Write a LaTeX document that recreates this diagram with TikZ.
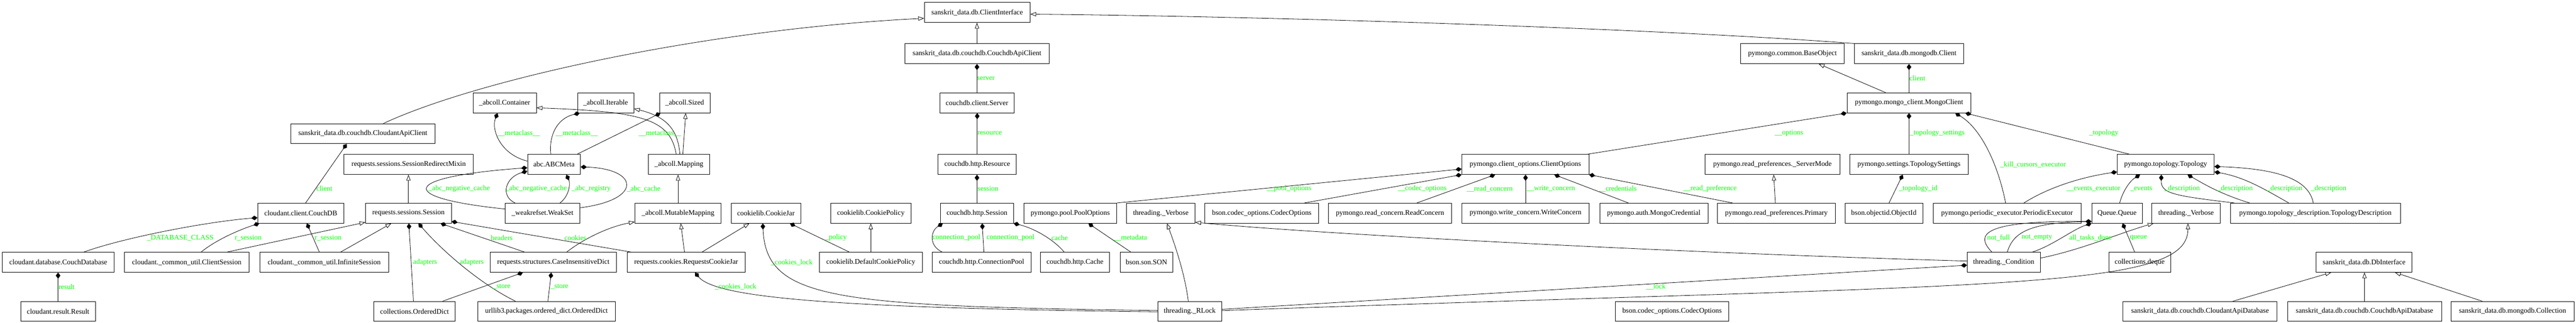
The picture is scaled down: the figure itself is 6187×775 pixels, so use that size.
\documentclass[tikz,border=0pt]{standalone}
\usepackage{fontspec}
\setmainfont{Liberation Serif}
\usetikzlibrary{arrows.meta,shapes}
\tikzset{
  cls/.style={
      draw,
      rectangle,
      line width=1pt,
      minimum width=#1,
      minimum height=48pt,
      inner xsep=4pt,
      inner ysep=0pt,
      font=\fontsize{17.2}{20}\selectfont
  },
  lbl/.style={
      text=green,
      inner sep=0pt,
      font=\fontsize{17.2}{20}\selectfont
  },
  isa/.style={line width=1pt, -{Triangle[open, length=14pt, width=10pt]}},
  has/.style={line width=1pt, -{Diamond[length=15pt, width=11pt]}}
}
\begin{document}
\begin{tikzpicture}[x=1pt, y=-1pt]
    \useasboundingbox (0,0) rectangle (6187,775);
    \node[cls=254pt] (ci) at (2347,30) {sanskrit\_data.db.ClientInterface};
    \node[cls=347pt] (cac2) at (2346.5,129) {sanskrit\_data.db.couchdb.CouchdbApiClient};
    \node[cls=248pt] (bobj) at (4305,129) {pymongo.common.BaseObject};
    \node[cls=262pt] (mcli) at (4585,129) {sanskrit\_data.db.mongodb.Client};
    \node[cls=152pt] (cont) at (1212,247) {\_abcoll.Container};
    \node[cls=135pt] (iter) at (1454.5,247) {\_abcoll.Iterable};
    \node[cls=121pt] (sized) at (1644.5,247) {\_abcoll.Sized};
    \node[cls=179pt] (srv) at (2346.5,247) {couchdb.client.Server};
    \node[cls=298pt] (mongo) at (4585,247) {pymongo.mongo\_client.MongoClient};
    \node[cls=347pt] (cac) at (871.5,321) {sanskrit\_data.db.couchdb.CloudantApiClient};
    \node[cls=311pt] (srm) at (981.5,395) {requests.sessions.SessionRedirectMixin};
    \node[cls=127pt] (abcm) at (1330.5,395) {abc.ABCMeta};
    \node[cls=147pt] (mapg) at (1630.5,395) {\_abcoll.Mapping};
    \node[cls=188pt] (res) at (2347,395) {couchdb.http.Resource};
    \node[cls=305pt] (copt) at (3663.5,395) {pymongo.client\_options.ClientOptions};
    \node[cls=324pt] (smode) at (4257,395) {pymongo.read\_preferences.\_ServerMode};
    \node[cls=284pt] (tset) at (4585,395) {pymongo.settings.TopologySettings};
    \node[cls=233pt] (topo) at (5201.5,395) {pymongo.topology.Topology};
    \node[cls=207pt] (cdb) at (722.5,512) {cloudant.client.CouchDB};
    \node[cls=206pt] (rses) at (981,512) {requests.sessions.Session};
    \node[cls=180pt] (wset) at (1303,512) {\_weakrefset.WeakSet};
    \node[cls=207pt] (mmap) at (1628.5,512) {\_abcoll.MutableMapping};
    \node[cls=167pt] (cjar) at (1839.5,512) {cookielib.CookieJar};
    \node[cls=193pt] (cpol) at (2091.5,512) {cookielib.CookiePolicy};
    \node[cls=175pt] (hses) at (2346.5,512) {couchdb.http.Session};
    \node[cls=223pt] (popts) at (2570.5,512) {pymongo.pool.PoolOptions};
    \node[cls=164pt] (verba) at (2788,512) {threading.\_Verbose};
    \node[cls=273pt] (copta) at (3030.5,512) {bson.codec\_options.CodecOptions};
    \node[cls=295pt] (rconc) at (3338.5,512) {pymongo.read\_concern.ReadConcern};
    \node[cls=306pt] (wconc) at (3664,512) {pymongo.write\_concern.WriteConcern};
    \node[cls=260pt] (cred) at (3972,512) {pymongo.auth.MongoCredential};
    \node[cls=283pt] (prim) at (4266.5,512) {pymongo.read\_preferences.Primary};
    \node[cls=187pt] (oid) at (4524.5,512) {bson.objectid.ObjectId};
    \node[cls=355pt] (pexec) at (4820.5,512) {pymongo.periodic\_executor.PeriodicExecutor};
    \node[cls=121pt] (queue) at (5084.5,512) {Queue.Queue};
    \node[cls=165pt] (verbb) at (5250.5,512) {threading.\_Verbose};
    \node[cls=408pt] (tdesc) at (5561,512) {pymongo.topology\_description.TopologyDescription};
    \node[cls=268pt] (cdbase) at (140,630) {cloudant.database.CouchDatabase};
    \node[cls=299pt] (csess) at (448.5,630) {cloudant.\_common\_util.ClientSession};
    \node[cls=309pt] (isess) at (778.5,630) {cloudant.\_common\_util.InfiniteSession};
    \node[cls=304pt] (cid) at (1329,630) {requests.structures.CaseInsensitiveDict};
    \node[cls=284pt] (rcjar) at (1648,630) {requests.cookies.RequestsCookieJar};
    \node[cls=247pt] (dcpol) at (2091.5,630) {cookielib.DefaultCookiePolicy};
    \node[cls=237pt] (cpool) at (2357.5,630) {couchdb.http.ConnectionPool};
    \node[cls=166pt] (cache) at (2582,630) {couchdb.http.Cache};
    \node[cls=127pt] (son) at (2753.5,630) {bson.son.SON};
    \node[cls=175pt] (cond) at (4812.5,630) {threading.\_Condition};
    \node[cls=148pt] (deque) at (5139,630) {collections.deque};
    \node[cls=230pt] (dbi) at (5678,630) {sanskrit\_data.db.DbInterface};
    \node[cls=179pt] (result) at (139.5,748) {cloudant.result.Result};
    \node[cls=195pt] (odict) at (995.5,748) {collections.OrderedDict};
    \node[cls=331pt] (uodict) at (1312.5,748) {urllib3.packages.ordered\_dict.OrderedDict};
    \node[cls=153pt] (rlock) at (2857.5,748) {threading.\_RLock};
    \node[cls=272pt] (coptb) at (4016,748) {bson.codec\_options.CodecOptions};
    \node[cls=370pt] (cadb) at (5284,748) {sanskrit\_data.db.couchdb.CloudantApiDatabase};
    \node[cls=370pt] (cdadb) at (5679,748) {sanskrit\_data.db.couchdb.CouchdbApiDatabase};
    \node[cls=295pt] (coll) at (6034.5,748) {sanskrit\_data.db.mongodb.Collection};

    \draw[isa] ([xshift=49.5pt]cac.north) .. controls (1150,190) and (1700,70) .. ([yshift=-14pt]ci.west);
    \draw[has] ([xshift=11.5pt]cdb.north) -- ([xshift=-38.5pt]cac.south);
    \draw[has] ([xshift=61pt]cdbase.north) .. controls (300,570) and (500,532) .. ([yshift=-11pt]cdb.west);
    \draw[has] ([xshift=34.5pt]csess.north) .. controls (520,575) and (580,550) .. ([xshift=-99.5pt]cdb.south);
    \draw[has] ([xshift=-11.5pt]isess.north) -- ([xshift=14.5pt]cdb.south);
    \draw[isa] ([xshift=96.5pt]csess.north) -- ([yshift=-22pt]rses.west);
    \draw[isa] ([xshift=39.5pt]isess.north) -- ([xshift=-41pt]rses.south);
    \draw[has] (result.north) -- (result.north |- cdbase.south);
    \draw[isa] (rses.north) -- (rses.north |- srm.south);
    \draw[has] ([xshift=-2.5pt]odict.north) -- ([xshift=1pt]rses.south);
    \draw[has] ([xshift=-74.5pt]uodict.north) .. controls (1150,680) and (1060,600) .. ([xshift=24pt]rses.south);
    \draw[has] ([xshift=-69pt]cid.north) -- ([xshift=77pt]rses.south);
    \draw[has] ([xshift=-132pt]rcjar.north) -- ([yshift=-20pt]rses.east);
    \draw[has] ([yshift=10pt]wset.west) .. controls (950,475) and (960,425) .. ([yshift=-8pt]abcm.west);
    \draw[has] ([xshift=-66pt]wset.north) .. controls (1200,470) and (1215,425) .. ([yshift=-16pt]abcm.west);
    \draw[has] ([xshift=42pt]wset.north) .. controls (1368,470) and (1370,440) .. ([xshift=29.5pt]abcm.south);
    \draw[has] ([yshift=13pt]wset.east) .. controls (1545,480) and (1535,405) .. ([yshift=-6pt]abcm.east);
    \draw[has] ([yshift=8pt]abcm.west) .. controls (1200,370) and (1180,310) .. ([xshift=-17pt]cont.south);
    \draw[has] ([xshift=-7.5pt]abcm.north) .. controls (1318,330) and (1335,285) .. ([xshift=-62pt]iter.south);
    \draw[has] ([xshift=55.5pt]abcm.north) -- ([xshift=-58pt]sized.south);
    \draw[isa] ([xshift=-6.5pt]mapg.north) .. controls (1610,285) and (1540,268) .. ([yshift=-12pt]cont.east);
    \draw[isa] ([xshift=2.5pt]mapg.north) .. controls (1628,310) and (1600,280) .. ([yshift=-14pt]iter.east);
    \draw[isa] ([xshift=9.5pt]mapg.north) -- ([xshift=2.5pt]sized.south);
    \draw[isa] (mmap.north) -- (mmap.north |- mapg.south);
    \draw[isa] ([xshift=32pt]cid.north) .. controls (1400,575) and (1460,545) .. ([yshift=-21pt]mmap.west);
    \draw[isa] ([xshift=-4pt]rcjar.north) -- ([xshift=6.5pt]mmap.south);
    \draw[isa] ([xshift=38pt]rcjar.north) -- ([xshift=-39.5pt]cjar.south);
    \draw[has] ([xshift=67.5pt]odict.north) -- ([xshift=-73pt]cid.south);
    \draw[has] ([xshift=3.5pt]uodict.north) -- ([xshift=-5pt]cid.south);
    \draw[has] ([xshift=-51.5pt]dcpol.north) -- ([xshift=57.5pt]cjar.south);
    \draw[isa] (dcpol.north) -- (cpol.south);
    \draw[has] ([yshift=2pt]rlock.west) .. controls (2000,735) and (1840,720) .. ([xshift=-7.5pt]cjar.south);
    \draw[has] ([yshift=-1pt]rlock.west) .. controls (2000,740) and (1720,715) .. ([xshift=21pt]rcjar.south);
    \draw[isa] (cac2.north) -- (cac2.north |- ci.south);
    \draw[isa] (mcli.north west) .. controls (4000,70) and (3100,40) .. ([yshift=-4pt]ci.east);
    \draw[has] (srv.north) -- (srv.north |- cac2.south);
    \draw[has] (res.north) -- (res.north |- srv.south);
    \draw[has] (hses.north) -- (hses.north |- res.south);
    \draw[has] ([xshift=-94.5pt]cpool.north) .. controls (2230,590) and (2235,555) .. ([xshift=-82pt]hses.south);
    \draw[has] ([xshift=5.5pt]cpool.north) -- ([xshift=12.5pt]hses.south);
    \draw[has] ([xshift=-26pt]cache.north) .. controls (2535,580) and (2490,550) .. (hses.south east);
    \draw[has] ([xshift=-37.5pt]son.north) -- ([xshift=43.5pt]popts.south);
    \draw[has] (popts.north east) -- ([yshift=-11pt]copt.west);
    \draw[isa] ([xshift=-3.5pt]rlock.north) .. controls (2845,650) and (2815,570) .. ([xshift=15pt]verba.south);
    \draw[isa] ([yshift=3pt]cond.west) .. controls (4100,610) and (3200,565) .. ([yshift=-22pt]verba.east);
    \draw[has] ([yshift=5pt]rlock.east) -- ([yshift=-7pt]cond.west);
    \draw[isa] ([yshift=2pt]rlock.east) .. controls (4800,680) and (5255,700) .. ([xshift=4.5pt]verbb.south);
    \draw[isa] ([yshift=10pt]cond.east) .. controls (5000,600) and (5090,560) .. ([xshift=-78pt]verbb.south);
    \draw[has] ([xshift=-28.5pt]cond.north) .. controls (4740,560) and (4770,530) .. ([yshift=-20pt]queue.west);
    \draw[has] ([xshift=8.5pt]cond.north) .. controls (4835,560) and (4870,535) .. ([yshift=-20pt]queue.west);
    \draw[has] ([xshift=68.5pt]cond.north) .. controls (4930,590) and (4980,550) .. (queue.south west);
    \draw[has] ([xshift=-12pt]deque.north) -- ([xshift=13.5pt]queue.south);
    \draw[has] ([xshift=6.5pt]queue.north) .. controls (5098,460) and (5115,435) .. ([xshift=-61.5pt]topo.south);
    \draw[has] ([xshift=40.5pt]pexec.north) .. controls (4920,450) and (5000,425) .. ([yshift=-18pt]topo.west);
    \draw[has] ([xshift=-3.5pt]pexec.north) .. controls (4800,400) and (4760,310) .. ([xshift=111pt]mongo.south);
    \draw[has] ([xshift=-86.5pt]topo.north) -- ([xshift=135pt]mongo.south);
    \draw[has] (tset.north) -- (tset.north |- mongo.south);
    \draw[has] ([xshift=148.5pt]copt.north) -- (mongo.south west);
    \draw[isa] ([xshift=-56pt]mongo.north) -- ([xshift=63pt]bobj.south);
    \draw[has] (mongo.north) -- (mongo.north |- mcli.south);
    \draw[has] ([xshift=12.5pt]oid.north) -- ([xshift=-15pt]tset.south);
    \draw[isa] ([xshift=-2.5pt]prim.north) -- ([xshift=3pt]smode.south);
    \draw[has] ([xshift=-105.5pt]prim.north) -- (copt.south east);
    \draw[has] ([xshift=64.5pt]rconc.north) -- ([xshift=-72.5pt]copt.south);
    \draw[has] ([xshift=102.5pt]copta.north) -- (copt.south west);
    \draw[has] (wconc.north) -- (wconc.north |- copt.south);
    \draw[has] ([xshift=-61pt]cred.north) -- ([xshift=69.5pt]copt.south);
    \draw[has] ([xshift=-195pt]tdesc.north) .. controls (5220,470) and (5190,465) .. ([xshift=-10.5pt]topo.south);
    \draw[has] ([xshift=-158pt]tdesc.north) .. controls (5330,465) and (5290,440) .. ([xshift=52.5pt]topo.south);
    \draw[has] ([xshift=-64pt]tdesc.north) .. controls (5440,455) and (5390,425) .. ([yshift=-18pt]topo.east);
    \draw[has] ([xshift=-5pt]tdesc.north) .. controls (5545,430) and (5470,405) .. ([yshift=-5pt]topo.east);
    \draw[isa] ([xshift=79pt]cadb.north) -- ([xshift=-79pt]dbi.south);
    \draw[isa] (cdadb.north) -- (cdadb.north |- dbi.south);
    \draw[isa] ([xshift=-72.5pt]coll.north) -- ([xshift=74pt]dbi.south);

    \node[lbl] (lcli) at (779,453) {client};
    \node[lbl] (ldbc) at (433,571) {\_DATABASE\_CLASS};
    \node[lbl] (lrsa) at (596,571) {r\_session};
    \node[lbl] (lrsb) at (788,571) {r\_session};
    \node[lbl] (lres) at (160,689) {result};
    \node[lbl] (lada) at (1021,630) {adapters};
    \node[lbl] (ladb) at (1133,630) {adapters};
    \node[lbl] (lhead) at (1205,571) {headers};
    \node[lbl] (lcook) at (1382,571) {cookies};
    \node[lbl] (lsta) at (1205,689) {\_store};
    \node[lbl] (lstb) at (1344,689) {\_store};
    \node[lbl] (lmca) at (1246,320) {\_\_metaclass\_\_};
    \node[lbl] (lmcb) at (1385,320) {\_\_metaclass\_\_};
    \node[lbl] (lmcc) at (1585,320) {\_\_metaclass\_\_};
    \node[lbl] (lnca) at (1103,453) {\_abc\_negative\_cache};
    \node[lbl] (lncb) at (1288,453) {\_abc\_negative\_cache};
    \node[lbl] (lreg) at (1420,453) {\_abc\_registry};
    \node[lbl] (lcac) at (1546,453) {\_abc\_cache};
    \node[lbl] (lpol) at (2008,571) {\_policy};
    \node[lbl] (lcla) at (1902,630) {\_cookies\_lock};
    \node[lbl] (lclb) at (1767,689) {\_cookies\_lock};
    \node[lbl] (lsrv) at (2368,188) {server};
    \node[lbl] (lrsc) at (2377,320) {resource};
    \node[lbl] (lses) at (2373,453) {session};
    \node[lbl] (lcpa) at (2297,571) {connection\_pool};
    \node[lbl] (lcpb) at (2427,571) {connection\_pool};
    \node[lbl] (lcache) at (2545,571) {cache};
    \node[lbl] (lmeta) at (2715,571) {\_\_metadata};
    \node[lbl] (lpo) at (3096,453) {\_\_pool\_options};
    \node[lbl] (lco) at (3416,453) {\_\_codec\_options};
    \node[lbl] (lrc) at (3578,453) {\_\_read\_concern};
    \node[lbl] (lwc) at (3725,453) {\_\_write\_concern};
    \node[lbl] (lcred) at (3885,453) {\_\_credentials};
    \node[lbl] (llock) at (3977,689) {\_\_lock};
    \node[lbl] (lrp) at (4107,453) {\_\_read\_preference};
    \node[lbl] (lmcl) at (4605,188) {client};
    \node[lbl] (lopt) at (4297,320) {\_\_options};
    \node[lbl] (lts) at (4653,320) {\_topology\_settings};
    \node[lbl] (lkce) at (4883,395) {\_kill\_cursors\_executor};
    \node[lbl] (ltid) at (4607,453) {\_topology\_id};
    \node[lbl] (ltopo) at (5053,320) {\_topology};
    \node[lbl] (lee) at (5028,453) {\_\_events\_executor};
    \node[lbl] (lnf) at (4800,571) {not\_full};
    \node[lbl] (lne) at (4892,571) {not\_empty};
    \node[lbl] (latd) at (5021,571) {all\_tasks\_done};
    \node[lbl] (lev) at (5143,453) {\_events};
    \node[lbl] (lda) at (5241,453) {\_description};
    \node[lbl] (ldb) at (5368,453) {\_description};
    \node[lbl] (ldc) at (5487,453) {\_description};
    \node[lbl] (ldd) at (5593,453) {\_description};
    \node[lbl] (lq) at (5136,571) {queue};
\end{tikzpicture}
\end{document}
